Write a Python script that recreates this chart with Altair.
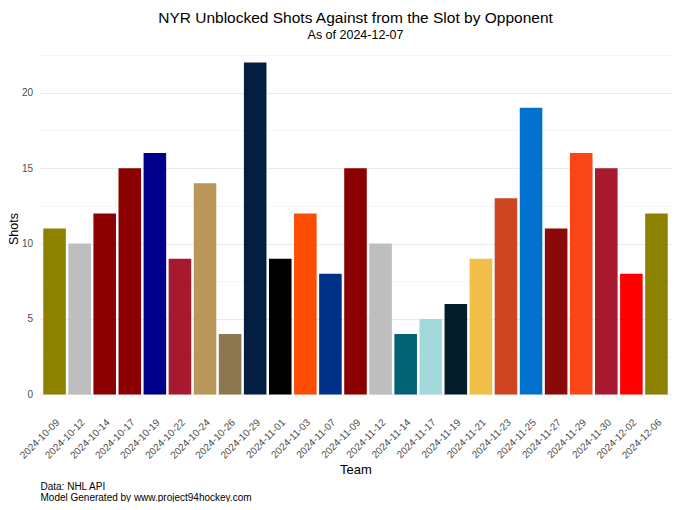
import altair as alt
import pandas as pd

# game dates (opponent axis) and shots against from the slot
dates = [
    "2024-10-09", "2024-10-12", "2024-10-14", "2024-10-17", "2024-10-19",
    "2024-10-22", "2024-10-24", "2024-10-26", "2024-10-29", "2024-11-01",
    "2024-11-03", "2024-11-07", "2024-11-09", "2024-11-12", "2024-11-14",
    "2024-11-17", "2024-11-19", "2024-11-21", "2024-11-23", "2024-11-25",
    "2024-11-27", "2024-11-29", "2024-11-30", "2024-12-02", "2024-12-06",
]
shots = [11, 10, 12, 15, 16, 9, 14, 4, 22, 9, 12, 8, 15, 10, 4, 5, 6, 9, 13, 19, 11, 16, 15, 8, 12]
team_colors = [
    "#8C8200", "#BEBEBE", "#8B0000", "#8B0000", "#00008B",
    "#A6192E", "#B9975B", "#8B7750", "#041E42", "#000000",
    "#FC4C02", "#003087", "#8B0000", "#BEBEBE", "#006272",
    "#A2DADB", "#041C2C", "#F1BE48", "#CF4520", "#0072CE",
    "#8A0A0A", "#FA4616", "#A6192E", "#FF0000", "#8C8200",
]
grid_values = [0, 2.5, 5, 7.5, 10, 12.5, 15, 17.5, 20, 22.5]
caption_lines = ["Data: NHL API", "Model Generated by www.project94hockey.com"]

df = pd.DataFrame({"Team": dates, "Shots": shots})

font = "Liberation Sans"

bars = alt.Chart(df).mark_bar().encode(
    x=alt.X(
        "Team:N",
        sort=dates,
        title="Team",
        scale=alt.Scale(paddingInner=0.1, paddingOuter=0.15),
        axis=alt.Axis(
            labelAngle=-45,
            labelAlign="right",
            labelBaseline="top",
            labelPadding=6,
            ticks=False,
            domain=False,
            grid=False,
            labelFontSize=10,
            labelColor="#4D4D4D",
            titleFontSize=13,
            titleFontWeight="normal",
            titleColor="#000000",
            titlePadding=3,
        ),
    ),
    y=alt.Y(
        "Shots:Q",
        title="Shots",
        scale=alt.Scale(domain=[-1.1, 23.1], nice=False, zero=False),
        axis=alt.Axis(
            values=grid_values,
            labelExpr="datum.value % 5 === 0 ? datum.label : ''",
            gridColor={
                "condition": {"test": "datum.value % 5 === 0", "value": "#EBEBEB"},
                "value": "#F5F5F5",
            },
            gridWidth=1,
            ticks=False,
            domain=False,
            labelFontSize=10,
            labelColor="#4D4D4D",
            labelPadding=7,
            titleFontSize=12.5,
            titleFontWeight="normal",
            titleColor="#000000",
            titleAngle=-90,
            titleAlign="center",
            titleBaseline="alphabetic",
            titleX=-22.5,
            titleY=182.5,
        ),
    ),
    y2=alt.datum(0),
    color=alt.Color("Team:N", scale=alt.Scale(domain=dates, range=team_colors), legend=None),
)

caption = alt.Chart(df).transform_filter("datum.Team === '2024-10-09'").mark_text(
    align="left",
    baseline="alphabetic",
    fontSize=10,
    lineHeight=11,
    font=font,
    color="#000000",
).encode(
    x=alt.value(1),
    y=alt.value(444),
    text=alt.value(caption_lines),
)

chart = alt.layer(bars, caption).properties(
    width=632,
    height=365,
    autosize=alt.AutoSizeParams(type="none"),
    padding={"left": 31.5, "top": 38, "right": 0.5, "bottom": 91},
    background="white",
    title=alt.TitleParams(
        text="NYR Unblocked Shots Against from the Slot by Opponent",
        subtitle="As of 2024-12-07",
        anchor="middle",
        fontSize=15.5,
        fontWeight="normal",
        font=font,
        color="#000000",
        subtitleFontSize=12.5,
        subtitleFont=font,
        subtitleColor="#000000",
        subtitlePadding=2,
        offset=5,
    ),
).configure_view(stroke=None).configure_axis(labelFont=font, titleFont=font)

chart.save("out.html", embed_options={"renderer": "svg", "actions": False})
